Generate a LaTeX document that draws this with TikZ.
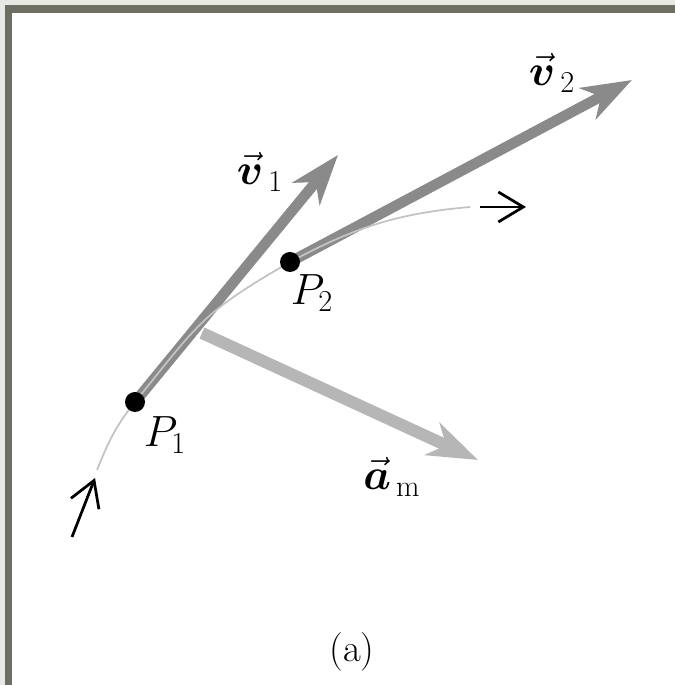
\documentclass[tikz,border=0pt]{standalone}
\usepackage{amsmath,amssymb}
\usepackage{tikz}
\usetikzlibrary{arrows.meta,calc,positioning}
\definecolor{framegrey}{RGB}{110,110,100}
\definecolor{pagegrey}{RGB}{232,232,228}
\definecolor{velgrey}{RGB}{138,138,138}
\definecolor{accgrey}{RGB}{182,182,182}
\definecolor{pathgrey}{RGB}{195,195,195}

\begin{document}
\begin{tikzpicture}[x=.2mm,y=.2mm,font=\fontsize{25}{30}\selectfont,
    vecarrow/.style={line width=2.1mm,-{Stealth[length=10mm,width=7mm,inset=3mm]}},
    dirarrow/.style={line width=.55mm,-{Straight Barb[length=5mm,width=6mm]}}]
  % frame
  \fill[pagegrey] (0,0) rectangle (675,685);
  \fill[framegrey] (5,0) rectangle (675,680);
  \fill[white] (12,0) rectangle (675,672);
  \useasboundingbox (0,0) rectangle (675,685);
  % points on the path
  \coordinate (S) at (97,215);
  \coordinate (P1) at (135,283);
  \coordinate (P2) at (290,423);
  \coordinate (E) at (470,478);
  \coordinate (v1tip) at (338,530);
  \coordinate (v2tip) at (632,605);
  \coordinate (amtail) at (202,352);
  \coordinate (amtip) at (478,225);
  % vectors
  \draw[vecarrow,velgrey] (P1) -- (v1tip);
  \draw[vecarrow,velgrey] (P2) -- (v2tip);
  \draw[vecarrow,accgrey,line width=2.4mm] (amtail) -- (amtip);
  % path
  \draw[pathgrey,line width=.35mm] (S) to[out=68,in=231] (P1)
    to[out=51,in=210,looseness=1.25] (P2) to[out=28,in=185] (E);
  \coordinate (dir1a) at (72,148); \coordinate (dir1b) at (95,207);
  \coordinate (dir2a) at (480,478); \coordinate (dir2b) at (526,478);
  \draw[dirarrow] (dir1a) -- (dir1b);
  \draw[dirarrow] (dir2a) -- (dir2b);
  \fill (P1) circle (2mm);
  \fill (P2) circle (2mm);
  % labels
  \node (v1lab) at (260,513) {$\vec{\boldsymbol v}_{\,1}$};
  \node (v2lab) at (552,612) {$\vec{\boldsymbol v}_{\,2}$};
  \node (P1lab) at (165,250) {$P_1$};
  \node (P2lab) at (312,392) {$P_2$};
  \node (amlab) at (392,208) {$\vec{\boldsymbol a}_{\,\mathrm m}$};
  \node[font=\fontsize{22}{26}\selectfont] (caption) at (352,33) {(a)};
\end{tikzpicture}
\end{document}
